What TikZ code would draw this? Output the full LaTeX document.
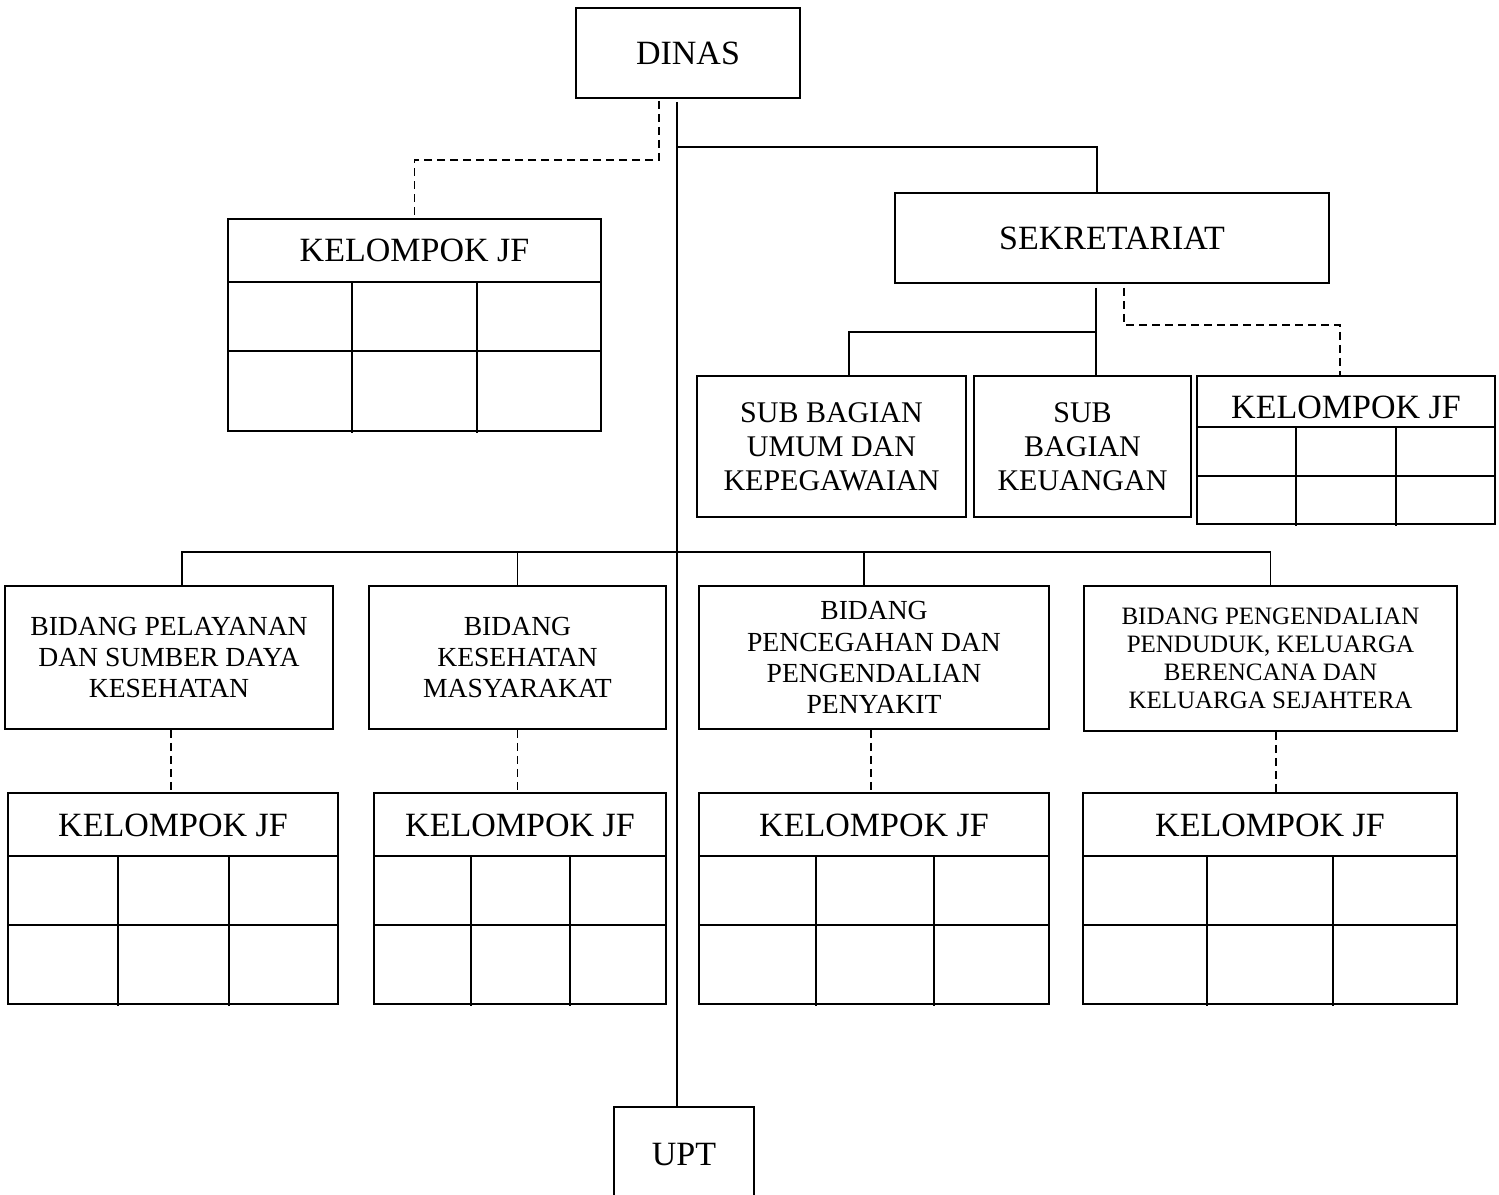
\documentclass[tikz,border=0pt]{standalone}
\usepackage{fontspec}
\setmainfont{Liberation Serif}
\newcommand{\fbig}{\fontsize{17}{20}\selectfont}
\newcommand{\fsub}{\fontsize{15}{17}\selectfont}
\newcommand{\fbid}{\fontsize{13.8}{15.6}\selectfont}
\newcommand{\fbidd}{\fontsize{12.5}{14}\selectfont}
\tikzset{
  box/.style={draw, line width=0.8pt, inner sep=0pt, align=center},
  conn/.style={line width=0.9pt},
  dashl/.style={line width=0.9pt, dash pattern=on 4pt off 2.5pt},
  gridl/.style={line width=0.8pt},
}
\def\kjfdy{0}
% rectangle node from pixel corners
\newcommand{\bx}[7]{%
  \node[box, minimum width={(#4-#2)*0.5pt}, minimum height={(#5-#3)*0.5pt}, #6]
    (#1) at ({(#2+#4)/2},{(#3+#5)/2}) {#7};
}
\newcommand{\kjfbox}[9]{%
  \bx{#1}{#2}{#3}{#4}{#5}{}{}
  \node[font=\fbig, inner sep=0pt] (#1t) at ({(#2+#4)/2},{(#3+#6)/2+\kjfdy}) {KELOMPOK JF};
  \draw[gridl] (#2,#6) -- (#4,#6) (#2,#7) -- (#4,#7) (#8,#6) -- (#8,#5+2) (#9,#6) -- (#9,#5+2);
}
\begin{document}
\begin{tikzpicture}[x=0.5pt, y=-0.5pt]
\useasboundingbox (0,0) rectangle (1499,1194);
% top
\bx{dinas}{576}{8}{800}{98}{font=\fbig}{DINAS}
\bx{sek}{895}{193}{1329}{283}{font=\fbig}{SEKRETARIAT}
\kjfbox{k1}{228}{219}{601}{431}{282}{351}{352}{477}
% sub bagian
\bx{subU}{697}{376}{966}{517}{font=\fsub}{SUB BAGIAN\\UMUM DAN\\KEPEGAWAIAN}
\bx{subK}{974}{376}{1191}{517}{font=\fsub}{SUB\\BAGIAN\\KEUANGAN}
\def\kjfdy{6}
\kjfbox{k2}{1197}{376}{1495}{524}{427}{476}{1296}{1396}
\def\kjfdy{1}
% bidang
\bx{b1}{5}{586}{333}{729}{font=\fbid}{BIDANG PELAYANAN\\DAN SUMBER DAYA\\KESEHATAN}
\bx{b2}{369}{586}{666}{729}{font=\fbid}{BIDANG\\KESEHATAN\\MASYARAKAT}
\bx{b3}{699}{586}{1049}{729}{font=\fbid}{BIDANG\\PENCEGAHAN DAN\\PENGENDALIAN\\PENYAKIT}
\bx{b4}{1084}{586}{1457}{731}{font=\fbidd}{BIDANG PENGENDALIAN\\PENDUDUK, KELUARGA\\BERENCANA DAN\\KELUARGA SEJAHTERA}
% kelompok bottom
\kjfbox{k3}{8}{793}{338}{1004}{856}{925}{118}{229}
\kjfbox{k4}{374}{793}{666}{1004}{856}{925}{471}{570}
\kjfbox{k5}{699}{793}{1049}{1004}{856}{925}{816}{934}
\kjfbox{k6}{1083}{793}{1457}{1004}{856}{925}{1207}{1333}
% UPT (open at the bottom)
\bx{upt}{615}{1108}{753}{1202}{draw=none, font=\fbig}{UPT}
\draw[line width=0.8pt] (upt.south west) -- (upt.north west) -- (upt.north east) -- (upt.south east);
% connectors
\draw[conn] ([xshift=51pt,yshift=-1.5pt]dinas.south west) coordinate (mtop) -- (mtop |- upt.north);
\draw[dashl] ([xshift=42pt,yshift=-1pt]dinas.south west) -- ++(0,59) -| (k1.north);
\path (mtop) ++(1,45) coordinate (msek);
\draw[conn] (msek) -| ([xshift=-7.5pt]sek.south |- sek.north);
\draw[conn] ([xshift=-8pt,yshift=-2pt]sek.south) coordinate (s1) -- (s1 |- subK.north);
\path (s1) ++(0,44) coordinate (s2);
\draw[conn] (s2) -| ([xshift=8.75pt]subU.north);
\draw[dashl] ([xshift=6pt,yshift=-2pt]sek.south) -- ++(0,37) -| ([xshift=-3pt]k2.north);
\path (mtop) ++(0,450) coordinate (bus);
\draw[conn] (bus) -| ([xshift=6.5pt]b1.north);
\draw[conn] (bus) -| (b2.north);
\draw[conn] (bus) -| ([xshift=-5pt]b3.north);
\draw[conn] (bus) -| (b4.north);
\draw[dashl] ([xshift=1pt]b1.south) -- ([xshift=1pt]b1.south |- k3.north);
\draw[dashl] (b2.south) -- (b2.south |- k4.north);
\draw[dashl] ([xshift=-1.5pt]b3.south) -- ([xshift=-1.5pt]b3.south |- k5.north);
\draw[dashl] ([xshift=2.75pt]b4.south) -- ([xshift=2.75pt]b4.south |- k6.north);
\end{tikzpicture}
\end{document}
